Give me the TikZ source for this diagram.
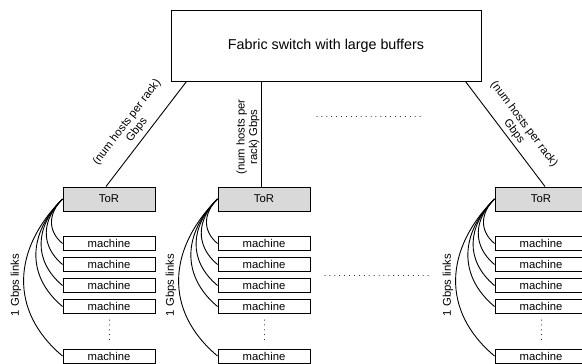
\documentclass[tikz,border=0pt]{standalone}
\usepackage{fontspec}
\setmainfont{Liberation Sans}
\definecolor{torgray}{gray}{0.85}
\begin{document}
\begin{tikzpicture}[x=1pt,y=-1pt,
  box/.style={draw, line width=1pt, inner sep=0pt, font=\fontsize{11.3}{13}\selectfont},
  torbox/.style={box, fill=torgray, minimum width=92pt, minimum height=24pt},
  machbox/.style={box, fill=white, minimum width=92pt, minimum height=14pt},
  link/.style={line width=0.9pt},
  dots/.style={line width=1pt, dash pattern=on 0.01pt off 4.9pt, line cap=round},
  lbl/.style={font=\fontsize{11.3}{12.5}\selectfont, align=center, inner sep=0pt}]
\useasboundingbox (0,0) rectangle (582,364);
\node[box, minimum width=310pt, minimum height=71pt, font=\fontsize{14.3}{16}\selectfont] (fab) at (326,45.5) {Fabric switch with large buffers};
\foreach \i/\x in {1/109, 2/264, 3/541} {
  \node[torbox] (tor\i) at (\x,199) {ToR};
  \foreach \j/\y in {1/243.5, 2/264.5, 3/285.5, 4/306.5, 5/356} {
    \node[machbox] (m\i\j) at (\x,\y) {machine};
    \draw[link] (tor\i.west) to[out=225,in=140,looseness=1.15] (m\i\j.west);
  }
  \draw[dots, shorten <=6pt, shorten >=4pt] (m\i4.south) -- (m\i5.north);
  \node[lbl, rotate=90] (gl\i) at (\x-93,285) {1 Gbps links};
}
\draw[link] ([xshift=16pt]fab.south west) -- ([xshift=-3pt]tor1.north);
\draw[link] ([xshift=-3pt]tor2.north) -- ([xshift=-3pt]tor2.north |- fab.south);
\draw[link] ([xshift=-16pt]fab.south east) -- ([xshift=4pt]tor3.north);
\node[lbl, rotate=52.6] (l1) at (132,126) {(num hosts per rack)\\Gbps};
\node[lbl, rotate=90] (l2) at (248,137) {(num hosts per\\rack) Gbps};
\node[lbl, rotate=-53] (l3) at (519,128) {(num hosts per rack)\\Gbps};
\coordinate (d1a) at (317,116);
\coordinate (d1b) at (424,116);
\coordinate (d2a) at (325,275);
\coordinate (d2b) at (432,275);
\draw[dots] (d1a) -- (d1b);
\draw[dots] (d2a) -- (d2b);
\end{tikzpicture}
\end{document}
